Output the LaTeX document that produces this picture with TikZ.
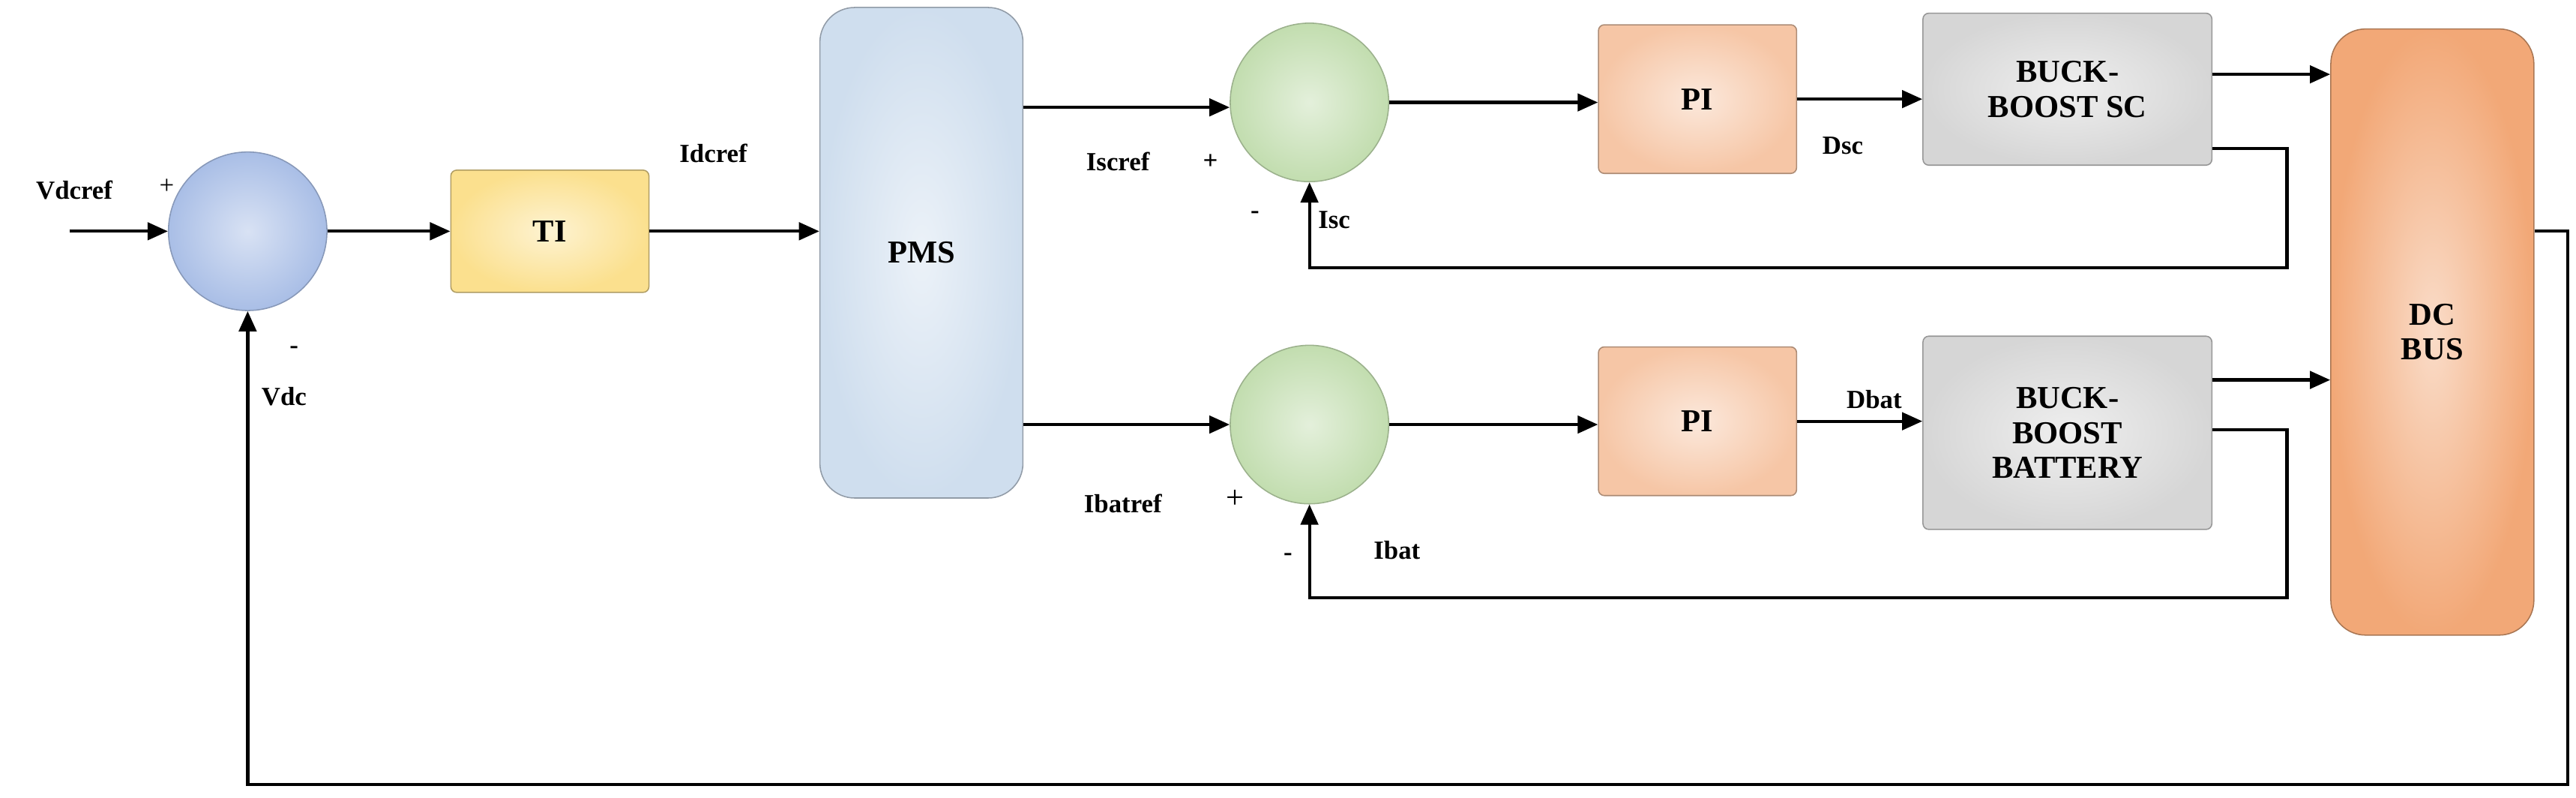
\documentclass[tikz,border=0pt]{standalone}
\usepackage{fontspec}
\setmainfont{Liberation Serif}
\usetikzlibrary{arrows.meta}
\definecolor{cblue}{HTML}{A9BEE6}
\definecolor{cgreen}{HTML}{C2DDAF}
\definecolor{cyel}{HTML}{FBE08E}
\definecolor{cpms}{HTML}{CFDEEE}
\definecolor{cpi}{HTML}{F6C6A6}
\definecolor{cgray}{HTML}{D6D6D6}
\definecolor{cbus}{HTML}{F2A877}
\begin{document}
\begin{tikzpicture}[x=0.02cm,y=-0.02cm,
  line width=1.1pt,
  >={Triangle[length=7pt,width=6pt]},
  sum/.style={circle,minimum size=1.92cm,inner sep=0pt,draw=#1!80!black,line width=0.4pt,
    inner color=#1!45,outer color=#1},
  blk/.style={rectangle,rounded corners=2pt,draw=#1!70!black,line width=0.4pt,
    inner color=#1!40,outer color=#1,font=\bfseries\fontsize{11}{12}\selectfont,align=center,inner sep=0pt},
  lbl/.style={font=\bfseries\fontsize{9}{10}\selectfont,inner sep=0pt},
  sg/.style={font=\fontsize{9}{10}\selectfont,inner sep=0pt}]
\useasboundingbox (0,0) rectangle (1560,483);
% blocks
\node[sum=cblue] (s1) at (150,140) {};
\node[blk=cyel,minimum width=2.4cm,minimum height=1.48cm] (ti) at (333,140) {TI};
\node[blk=cpms,rounded corners=12pt,minimum width=2.46cm,minimum height=5.94cm] (pms) at (558,153) {PMS};
\node[sum=cgreen] (s2) at (793,62) {};
\node[sum=cgreen] (s3) at (793,257) {};
\node[blk=cpi,minimum width=2.4cm,minimum height=1.8cm] (pi1) at (1028,60) {PI};
\node[blk=cpi,minimum width=2.4cm,minimum height=1.8cm] (pi2) at (1028,255) {PI};
\node[blk=cgray,minimum width=3.5cm,minimum height=1.84cm] (bsc) at (1252,54) {BUCK-\\BOOST SC};
\node[blk=cgray,minimum width=3.5cm,minimum height=2.34cm] (bbat) at (1252,262) {BUCK-\\BOOST\\BATTERY};
\node[blk=cbus,rounded corners=12pt,minimum width=2.46cm,minimum height=7.34cm] (bus) at (1473,201) {DC\\BUS};
% coordinates
\coordinate (in) at (42,140);
% connectors
\draw[->] (in) -- (s1.west);
\draw[->] (s1.east) -- (ti.west);
\draw[->] (ti.east) -- (pms.west |- ti.east);
\draw[->] (pms.east |- 0,65) -- (s2.west |- 0,65);
\draw[->] (pms.east |- 0,257) -- (s3.west);
\draw[->] (s2.east) -- (pi1.west |- s2.east);
\draw[->] (s3.east) -- (pi2.west |- s3.east);
\draw[->] (pi1.east) -- (bsc.west |- pi1.east);
\draw[->] (pi2.east) -- (bbat.west |- pi2.east);
\draw[->] (bsc.east |- 0,45) -- (bus.west |- 0,45);
\draw[->] (bbat.east |- 0,230) -- (bus.west |- 0,230);
\draw[->] (bsc.east |- 0,90) -- (1385,90) -- (1385,162) -- (793,162) -- (s2.south);
\draw[->] (bbat.east |- 0,260) -- (1385,260) -- (1385,362) -- (793,362) -- (s3.south);
\draw[->] (bus.east |- 0,140) -- (1555,140) -- (1555,475) -- (150,475) -- (s1.south);
% labels
\node[lbl] at (45,115) {Vdcref};
\node[sg] at (101,113) {+};
\node[lbl] at (178,212) {-};
\node[lbl] at (172,240) {Vdc};
\node[lbl] at (432,93) {Idcref};
\node[lbl] at (677,98) {Iscref};
\node[lbl] at (733,98) {+};
\node[lbl] at (760,130) {-};
\node[lbl] at (808,133) {Isc};
\node[lbl] at (1116,88) {Dsc};
\node[lbl] at (680,305) {Ibatref};
\node[sg,font=\fontsize{11}{12}\selectfont] at (748,302) {+};
\node[lbl] at (780,337) {-};
\node[lbl] at (846,333) {Ibat};
\node[lbl] at (1135,242) {Dbat};
\end{tikzpicture}
\end{document}
